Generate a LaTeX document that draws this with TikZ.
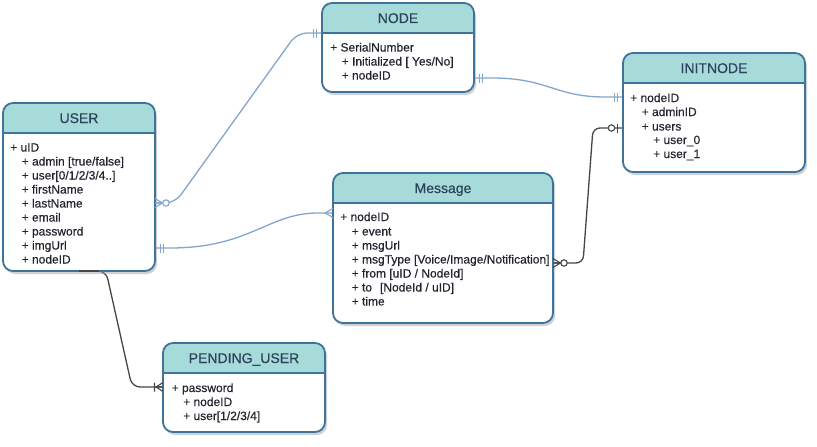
\documentclass[tikz,border=0pt]{standalone}
\usepackage{fontspec}
\setmainfont{Liberation Sans}
\newfontfamily\attrfont{Liberation Sans}[FakeBold=0.35]
\usetikzlibrary{calc}
\definecolor{hdr}{RGB}{166,219,217}
\definecolor{bord}{RGB}{62,116,155}
\definecolor{lconnc}{RGB}{132,166,204}
\definecolor{dconnc}{RGB}{70,70,74}
\definecolor{titlec}{RGB}{45,66,92}
\definecolor{txtc}{RGB}{35,36,46}
\definecolor{shadc}{RGB}{150,155,170}
\tikzset{
  ebox/.style={rectangle, fill=white, draw=none, inner sep=0pt, outer sep=0pt, rounded corners=10pt},
  eborder/.style={draw=bord, line width=1.8pt},
  etitle/.style={anchor=base, inner sep=0pt, font=\attrfont\fontsize{14}{16}\selectfont, text=titlec},
  attr/.style={anchor=base west, inner sep=0pt, font=\attrfont\fontsize{12}{14}\selectfont, text=txtc},
  lconn/.style={draw=lconnc, line width=1.3pt},
  dconn/.style={draw=dconnc, line width=1.3pt},
}
% name x1 y1 x2 y2 yh title
\newcommand\entity[7]{%
  \fill[shadc, opacity=0.45, rounded corners=10pt] ({#2+2},{#3+3}) rectangle ({#4+2},{#5+3});
  \pgfmathsetlengthmacro\ew{(#4-#2)*1pt}%
  \pgfmathsetlengthmacro\eh{(#5-#3)*1pt}%
  \node[ebox, minimum width=\ew, minimum height=\eh, anchor=north west] (#1) at (#2,#3) {};
  \begin{scope}
    \clip (#2,#3) rectangle (#4,#6);
    \fill[hdr, rounded corners=10pt] (#2,#3) rectangle (#4,#5);
  \end{scope}
  \draw[eborder] (#2,#6) -- (#4,#6);
  \draw[eborder, rounded corners=10pt] (#1.north west) rectangle (#1.south east);
  \node[etitle] (#1-title) at ({(#2+#4)/2},{(#3+#6)/2+5}) {#7};
}
% marks: point, xscale (+1 outward to the right, -1 outward to the left), colour
\newcommand\mone[3]{\begin{scope}[shift={(#1)}, xscale=#2]
  \draw[#3, line width=1.1pt] (5.5,-4.5) -- (5.5,4.5) (8.5,-4.5) -- (8.5,4.5);
\end{scope}}
\newcommand\mzeromany[3]{\begin{scope}[shift={(#1)}, xscale=#2]
  \draw[#3, line width=1.1pt] (0,-4.5) -- (7.5,0) -- (0,4.5) (0,0) -- (7.5,0);
  \draw[#3, line width=1.1pt, fill=white] (11,0) circle (3.2pt);
\end{scope}}
\newcommand\mmany[3]{\begin{scope}[shift={(#1)}, xscale=#2]
  \draw[#3, line width=1.1pt] (0,-4.5) -- (8,0) -- (0,4.5);
\end{scope}}
\newcommand\monemany[3]{\begin{scope}[shift={(#1)}, xscale=#2]
  \draw[#3, line width=1.1pt] (0,-4.5) -- (7,0) -- (0,4.5) (0,0) -- (7,0) (8.5,-4.5) -- (8.5,4.5);
\end{scope}}
\newcommand\mzeroone[3]{\begin{scope}[shift={(#1)}, xscale=#2]
  \draw[#3, line width=1.1pt] (5.5,-4.5) -- (5.5,4.5);
  \draw[#3, line width=1.1pt, fill=white] (11.5,0) circle (3.2pt);
\end{scope}}

\begin{document}
\begin{tikzpicture}[x=1pt, y=-1pt]
\useasboundingbox[fill=white] (0,0) rectangle (817,447);

% ---- connectors (drawn first, entities on top) ----
% USER -> NODE
\draw[lconn, rounded corners=10pt] (155,203) coordinate (uA) -- (175,203) -- (297,33) -- (322,33) coordinate (nA);
% USER -> Message
\draw[lconn] (155,248) coordinate (uB) -- (170,248) .. controls (250,248) and (268,213) .. (318,213) -- (333,213) coordinate (mA);
% NODE -> INITNODE
\draw[lconn] (474,78) coordinate (nB) -- (492,78) .. controls (548,78) and (555,97) .. (605,97) -- (623,97) coordinate (iA);
% Message -> INITNODE
\draw[dconn, rounded corners=7pt] (553,263) coordinate (mB) -- (583,263) -- (593,128) -- (623,128) coordinate (iB);
% USER -> PENDING_USER
\draw[dconn, rounded corners=8pt] (79,271) coordinate (uC) -- (106,271) -- (132,387) -- (163,387) coordinate (pA);

% ---- entities ----
\entity{USER}{3}{103}{155}{271}{133}{USER}
\entity{NODE}{322}{3}{474}{92}{33}{NODE}
\entity{INIT}{623}{53}{805}{172}{83}{INITNODE}
\entity{MSG}{333}{173}{553}{323}{203}{Message}
\entity{PEND}{163}{343}{325}{432}{373}{PENDING\_USER}

% connector start running along the USER bottom edge
\draw[dconn] (USER.south) -- ++(20,0);

% ---- attributes ----
\node[attr] (u-1) at (10,151.5) {+ uID};
\node[attr] (u-2) at (21.5,165.5) {+ admin [true/false]};
\node[attr] (u-3) at (21.5,179.5) {+ user[0/1/2/3/4..]};
\node[attr] (u-4) at (21.5,193.5) {+ firstName};
\node[attr] (u-5) at (21.5,207.5) {+ lastName};
\node[attr] (u-6) at (21.5,221.5) {+ email};
\node[attr] (u-7) at (21.5,235.5) {+ password};
\node[attr] (u-8) at (21.5,249.5) {+ imgUrl};
\node[attr] (u-9) at (21.5,263.5) {+ nodeID};

\node[attr] (n-1) at (330,51.5) {+ SerialNumber};
\node[attr] (n-2) at (341.5,65.5) {+ Initialized [ Yes/No]};
\node[attr] (n-3) at (341.5,79.5) {+ nodeID};

\node[attr] (i-1) at (630,102) {+ nodeID};
\node[attr] (i-2) at (641.5,116) {+ adminID};
\node[attr] (i-3) at (641.5,130.5) {+ users};
\node[attr] (i-4) at (653,144) {+ user\_0};
\node[attr] (i-5) at (653,158) {+ user\_1};

\node[attr] (m-1) at (340,221) {+ nodeID};
\node[attr] (m-2) at (351.5,235.5) {+ event};
\node[attr] (m-3) at (351.5,249.5) {+ msgUrl};
\node[attr] (m-4) at (351.5,263.5) {+ msgType [Voice/Image/Notification]};
\node[attr] (m-5) at (351.5,277.5) {+ from [uID / NodeId]};
\node[attr] (m-6) at (351.5,291.5) {+ to\hspace*{8pt}[NodeId / uID]};
\node[attr] (m-7) at (351.5,305.5) {+ time};

\node[attr] (p-1) at (171.5,392) {+ password};
\node[attr] (p-2) at (183,406) {+ nodeID};
\node[attr] (p-3) at (183,420) {+ user[1/2/3/4]};

% ---- cardinality marks ----
\mzeromany{uA}{1}{lconnc}
\mone{nA}{-1}{lconnc}
\mone{uB}{1}{lconnc}
\mmany{mA}{-1}{lconnc}
\mone{nB}{1}{lconnc}
\mone{iA}{-1}{lconnc}
\mzeromany{mB}{1}{dconnc}
\mzeroone{iB}{-1}{dconnc}
\monemany{pA}{-1}{dconnc}
\end{tikzpicture}
\end{document}
